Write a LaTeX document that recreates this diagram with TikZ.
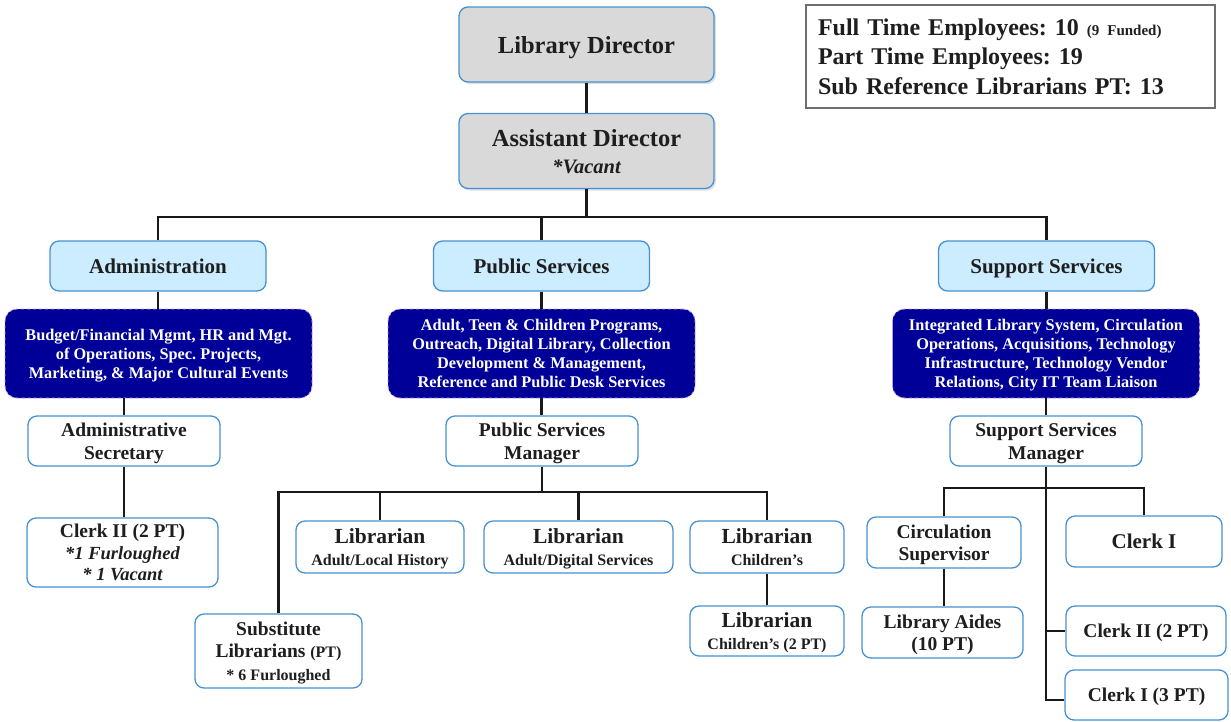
\documentclass[tikz,border=0pt]{standalone}
\usepackage{fontspec}
\setmainfont{Liberation Serif}
\usetikzlibrary{shadows}
\definecolor{bordc}{RGB}{70,145,210}
\definecolor{grayf}{RGB}{217,217,217}
\definecolor{lbluef}{RGB}{204,236,255}
\definecolor{navyf}{RGB}{0,0,153}
\definecolor{dashc}{RGB}{200,150,230}
\definecolor{infoc}{RGB}{110,110,110}
\definecolor{linec}{RGB}{25,25,25}
\definecolor{textc}{RGB}{30,30,30}
\frenchspacing
\begin{document}
\begin{tikzpicture}[x=1pt,y=-1pt,
  box/.style={draw=bordc, line width=1.3pt, rounded corners=9pt, align=center, inner sep=0pt, text=textc, text depth=0pt},
  topbox/.style={box, fill=grayf, minimum width=255pt, minimum height=75pt, drop shadow={opacity=0.25,shadow xshift=2pt,shadow yshift=-2pt}},
  deptbox/.style={box, fill=lbluef, minimum width=216pt, minimum height=50pt, font=\fontsize{21}{24}\selectfont\bfseries},
  funcbox/.style={rounded corners=12pt, fill=navyf, draw=dashc, dashed, line width=0.8pt, minimum width=307pt, minimum height=89pt, text=white, align=center, inner sep=0pt, text depth=0pt, font=\fontsize{16.3}{19}\selectfont\bfseries},
  staff/.style={box, fill=white, font=\fontsize{19.5}{22.5}\selectfont\bfseries},
  libbox/.style={box, fill=white, font=\fontsize{16}{22}\selectfont\bfseries},
  conn/.style={draw=linec, line width=2.9pt},
]
\useasboundingbox (0,0) rectangle (1231,721);

% top
\node[topbox, font=\fontsize{24.5}{28}\selectfont\bfseries] (ld) at (586.5,44.5) {Library Director};
\node[topbox, font=\fontsize{24.5}{27}\selectfont\bfseries] (ad) at (586.5,151) {Assistant Director\\{\fontsize{20.5}{20}\selectfont\itshape *Vacant}};

\node[draw=infoc, line width=1.3pt, minimum width=409pt, minimum height=103pt, inner sep=0pt, text width=385pt, align=left, text=textc, font=\fontsize{24}{29.5}\selectfont\bfseries] (info) at (1010.5,56.5) {Full Time Employees: 10 {\fontsize{15}{15}\selectfont (9 Funded)}\\Part Time Employees: 19\\Sub Reference Librarians PT: 13};

% departments
\node[deptbox] (adm) at (158,266) {Administration};
\node[deptbox] (ps) at (541.5,266) {Public Services};
\node[deptbox] (ss) at (1046.5,266) {Support Services};

\node[funcbox] (admf) at (158.5,353.5) {Budget/Financial Mgmt, HR and Mgt.\\of Operations, Spec. Projects,\\Marketing, \& Major Cultural Events};
\node[funcbox] (psf) at (541.5,353.5) {Adult, Teen \& Children Programs,\\Outreach, Digital Library, Collection\\Development \& Management,\\Reference and Public Desk Services};
\node[funcbox] (ssf) at (1046,353.5) {Integrated Library System, Circulation\\Operations, Acquisitions, Technology\\Infrastructure, Technology Vendor\\Relations, City IT Team Liaison};

% administration
\node[staff, minimum width=192pt, minimum height=50pt] (sec) at (124,441) {Administrative\\Secretary};
\node[staff, minimum width=191pt, minimum height=69pt, font=\fontsize{19.5}{21.5}\selectfont\bfseries] (clk) at (122.5,552.5) {Clerk II (2 PT)\\{\fontsize{18.5}{18}\selectfont\itshape *1 Furloughed}\\{\fontsize{18.5}{18}\selectfont\itshape * 1 Vacant}};

% public services
\node[staff, minimum width=192pt, minimum height=50pt] (psm) at (542,441) {Public Services\\Manager};
\node[libbox, minimum width=168pt, minimum height=52pt] (lal) at (380,547) {{\fontsize{21.5}{22}\selectfont Librarian}\\Adult/Local History};
\node[libbox, minimum width=189pt, minimum height=52pt] (lad) at (578.5,547) {{\fontsize{21.5}{22}\selectfont Librarian}\\Adult/Digital Services};
\node[libbox, minimum width=154pt, minimum height=52pt] (lch) at (767,547) {{\fontsize{21.5}{22}\selectfont Librarian}\\Children’s};
\node[libbox, minimum width=154pt, minimum height=50pt] (lch2) at (767,631) {{\fontsize{21.5}{22}\selectfont Librarian}\\Children’s (2 PT)};
\node[staff, minimum width=167pt, minimum height=74pt] (sub) at (278.5,651) {Substitute\\Librarians {\fontsize{16}{15}\selectfont (PT)}\\{\fontsize{16}{15}\selectfont * 6 Furloughed}};

% support services
\node[staff, minimum width=192pt, minimum height=50pt] (ssm) at (1046,441) {Support Services\\Manager};
\node[staff, minimum width=154pt, minimum height=51pt] (circ) at (944,542.5) {Circulation\\Supervisor};
\node[staff, minimum width=156pt, minimum height=51pt, font=\fontsize{21}{24}\selectfont\bfseries] (c1) at (1144,541.5) {Clerk I};
\node[staff, minimum width=161pt, minimum height=51pt] (aides) at (942.5,632.5) {Library Aides\\(10 PT)};
\node[staff, minimum width=160pt, minimum height=50pt] (c2) at (1146,631) {Clerk II (2 PT)};
\node[staff, minimum width=163pt, minimum height=50pt] (c13) at (1146.5,695) {Clerk I (3 PT)};

% connectors
\coordinate (bus1) at (586,217);
\coordinate (pbus) at (542,492);
\coordinate (sbus) at (1046,488);
\coordinate (c13in) at ([yshift=-5pt]c13.west);

\draw[conn] (ld.south) -- (ad.north);
\draw[conn] (ad.south) -- (ad.south |- bus1);
\draw[conn] (adm.north) -- (adm.north |- bus1) -| (ss.north);
\draw[conn] (ps.north) -- (ps.north |- bus1);
\draw[conn] (adm.south) -- (adm.south |- admf.north);
\draw[conn] (ps.south) -- (ps.south |- psf.north);
\draw[conn] (ss.south) -- (ss.south |- ssf.north);

\draw[conn] (sec.north |- admf.south) -- (sec.north);
\draw[conn] (sec.south) -- (sec.south |- clk.north);

\draw[conn] (psf.south) -- (psf.south |- psm.north);
\draw[conn] (psm.south) -- (psm.south |- pbus);
\draw[conn] (sub.north) -- (sub.north |- pbus) -| (lch.north);
\draw[conn] (lal.north) -- (lal.north |- pbus);
\draw[conn] (lad.north) -- (lad.north |- pbus);
\draw[conn] (lch.south) -- (lch2.north);

\draw[conn] (ssf.south) -- (ssf.south |- ssm.north);
\draw[conn] (circ.north) -- (circ.north |- sbus) -| (c1.north);
\draw[conn] (circ.south) -- (circ.south |- aides.north);
\draw[conn] (ssm.south) -- (ssm.south |- c13in) -- (c13in);
\draw[conn] (ssm.south |- c2.west) -- (c2.west);
\end{tikzpicture}
\end{document}
